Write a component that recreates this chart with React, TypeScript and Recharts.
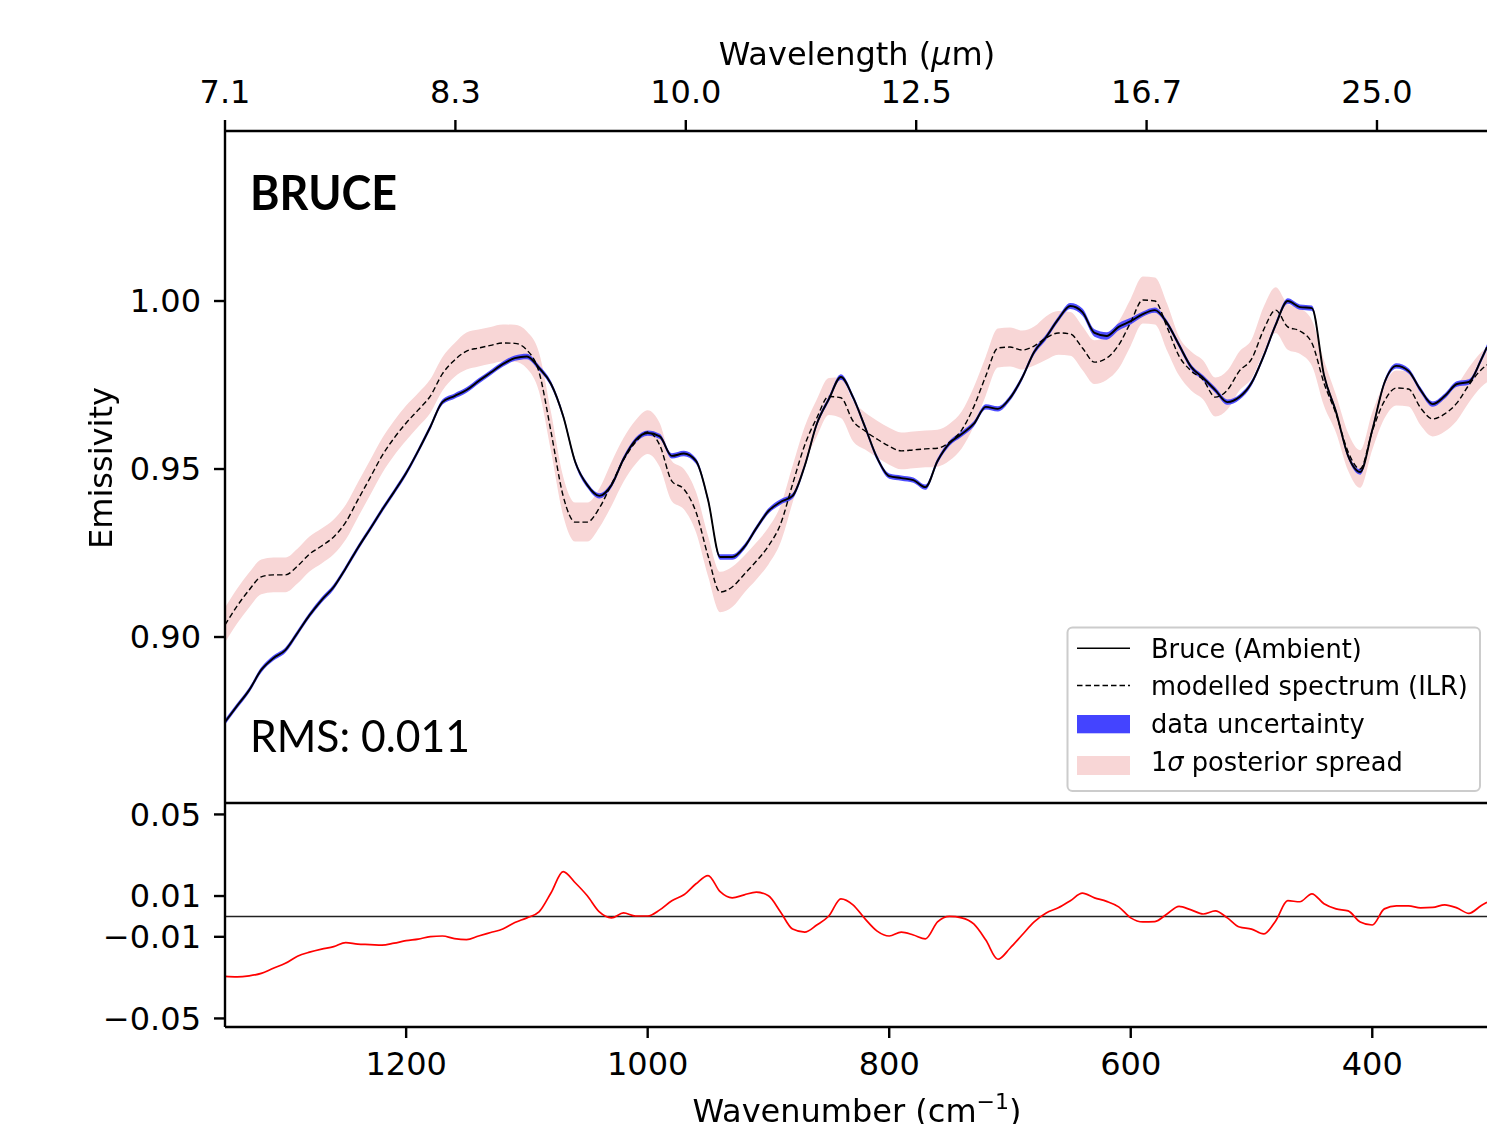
import React from 'react';
import { ComposedChart, Line, Area, XAxis, YAxis, ReferenceLine } from 'recharts';

// Wavenumber samples (cm^-1)
const WAVENUMBER = [
  1350, 1340, 1330, 1320, 1310, 1300, 1290, 1280, 1270, 1260, 1250, 1240, 1230, 1220, 1210, 1200,
  1190, 1180, 1170, 1160, 1150, 1140, 1130, 1120, 1110, 1100, 1090, 1080, 1070, 1060, 1050, 1040,
  1030, 1020, 1010, 1000, 990, 980, 970, 960, 950, 940, 930, 920, 910, 900, 890, 880,
  870, 860, 850, 840, 830, 820, 810, 800, 790, 780, 770, 760, 750, 740, 730, 720,
  710, 700, 690, 680, 670, 660, 650, 640, 630, 620, 610, 600, 590, 580, 570, 560,
  550, 540, 530, 520, 510, 500, 490, 480, 470, 460, 450, 440, 430, 420, 410, 400,
  390, 380, 370, 360, 350, 340, 330, 320, 310, 305,
];

// Bruce (Ambient) measured emissivity
const EMISSIVITY_DATA = [
  0.8747, 0.8795, 0.8842, 0.8902, 0.8937, 0.8961, 0.9012, 0.9065, 0.9110, 0.9149, 0.9205, 0.9265, 0.9321, 0.9378, 0.9432, 0.9488,
  0.9554, 0.9625, 0.9699, 0.9717, 0.9735, 0.9762, 0.9787, 0.9812, 0.9830, 0.9835, 0.9801, 0.9753, 0.9658, 0.9521, 0.9452, 0.9420,
  0.9452, 0.9530, 0.9586, 0.9607, 0.9597, 0.9539, 0.9546, 0.9524, 0.9408, 0.9238, 0.9238, 0.9268, 0.9324, 0.9375, 0.9402, 0.9420,
  0.9509, 0.9634, 0.9708, 0.9774, 0.9714, 0.9625, 0.9533, 0.9479, 0.9473, 0.9467, 0.9446, 0.9524, 0.9577, 0.9604, 0.9634, 0.9685,
  0.9679, 0.9711, 0.9771, 0.9848, 0.9893, 0.9946, 0.9985, 0.9967, 0.9905, 0.9896, 0.9923, 0.9940, 0.9961, 0.9973, 0.9935, 0.9869,
  0.9804, 0.9771, 0.9735, 0.9699, 0.9714, 0.9756, 0.9836, 0.9929, 1.0000, 0.9982, 0.9979, 0.9780, 0.9670, 0.9539, 0.9491, 0.9616,
  0.9756, 0.9807, 0.9792, 0.9735, 0.9693, 0.9717, 0.9753, 0.9759, 0.9824, 0.9863,
];

// modelled spectrum (ILR)
const EMISSIVITY_MODEL = [
  0.9036, 0.9092, 0.9140, 0.9179, 0.9185, 0.9185, 0.9211, 0.9247, 0.9271, 0.9298, 0.9342, 0.9408, 0.9473, 0.9539, 0.9592, 0.9637,
  0.9676, 0.9717, 0.9783, 0.9824, 0.9851, 0.9860, 0.9868, 0.9875, 0.9874, 0.9854, 0.9789, 0.9610, 0.9420, 0.9342, 0.9342, 0.9384,
  0.9455, 0.9527, 0.9580, 0.9610, 0.9571, 0.9464, 0.9440, 0.9372, 0.9241, 0.9134, 0.9149, 0.9187, 0.9226, 0.9271, 0.9336, 0.9455,
  0.9571, 0.9652, 0.9716, 0.9712, 0.9643, 0.9613, 0.9589, 0.9568, 0.9554, 0.9557, 0.9560, 0.9562, 0.9580, 0.9616, 0.9685, 0.9777,
  0.9860, 0.9863, 0.9854, 0.9866, 0.9890, 0.9905, 0.9902, 0.9860, 0.9818, 0.9830, 0.9869, 0.9937, 1.0003, 1.0000, 0.9923, 0.9836,
  0.9792, 0.9765, 0.9714, 0.9735, 0.9792, 0.9827, 0.9914, 0.9973, 0.9923, 0.9911, 0.9875, 0.9756, 0.9664, 0.9551, 0.9500, 0.9613,
  0.9702, 0.9741, 0.9738, 0.9682, 0.9649, 0.9664, 0.9696, 0.9750, 0.9795, 0.9810,
];

// 1-sigma posterior spread (half width)
const POSTERIOR_SIGMA = [
  0.0052, 0.0052, 0.0052, 0.0052, 0.0052, 0.0052, 0.0052, 0.0052, 0.0052, 0.0052, 0.0052, 0.0052, 0.0052, 0.0052, 0.0052, 0.0052,
  0.0050, 0.0050, 0.0050, 0.0050, 0.0055, 0.0055, 0.0055, 0.0055, 0.0055, 0.0055, 0.0058, 0.0058, 0.0058, 0.0058, 0.0058, 0.0058,
  0.0065, 0.0065, 0.0065, 0.0065, 0.0065, 0.0060, 0.0060, 0.0060, 0.0060, 0.0060, 0.0060, 0.0055, 0.0055, 0.0055, 0.0055, 0.0055,
  0.0055, 0.0055, 0.0055, 0.0060, 0.0060, 0.0055, 0.0055, 0.0055, 0.0055, 0.0055, 0.0055, 0.0055, 0.0055, 0.0055, 0.0058, 0.0058,
  0.0058, 0.0058, 0.0058, 0.0058, 0.0065, 0.0065, 0.0065, 0.0065, 0.0065, 0.0065, 0.0070, 0.0070, 0.0070, 0.0070, 0.0070, 0.0058,
  0.0058, 0.0058, 0.0058, 0.0058, 0.0058, 0.0058, 0.0068, 0.0068, 0.0068, 0.0068, 0.0068, 0.0068, 0.0056, 0.0056, 0.0056, 0.0056,
  0.0052, 0.0052, 0.0052, 0.0052, 0.0052, 0.0052, 0.0052, 0.0052, 0.0052, 0.0052,
];

// data uncertainty (half width)
const DATA_UNCERTAINTY = [
  0.0008, 0.0008, 0.0008, 0.0008, 0.0008, 0.0008, 0.0008, 0.0008, 0.0008, 0.0008, 0.0008, 0.0008, 0.0008, 0.0008, 0.0008, 0.0008,
  0.0008, 0.0008, 0.0008, 0.0008, 0.0008, 0.0008, 0.0008, 0.0008, 0.0008, 0.0008, 0.0008, 0.0008, 0.0008, 0.0008, 0.0008, 0.0008,
  0.0008, 0.0008, 0.0008, 0.0008, 0.0008, 0.0008, 0.0008, 0.0008, 0.0008, 0.0008, 0.0008, 0.0008, 0.0008, 0.0008, 0.0008, 0.0008,
  0.0008, 0.0008, 0.0008, 0.0008, 0.0008, 0.0008, 0.0008, 0.0008, 0.0008, 0.0008, 0.0008, 0.0008, 0.0008, 0.0008, 0.0008, 0.0008,
  0.0008, 0.0008, 0.0008, 0.0008, 0.0008, 0.0008, 0.0009, 0.0011, 0.0011, 0.0011, 0.0011, 0.0010, 0.0008, 0.0008, 0.0008, 0.0008,
  0.0008, 0.0008, 0.0008, 0.0008, 0.0008, 0.0008, 0.0008, 0.0008, 0.0008, 0.0008, 0.0008, 0.0008, 0.0008, 0.0008, 0.0008, 0.0008,
  0.0008, 0.0008, 0.0008, 0.0008, 0.0008, 0.0008, 0.0008, 0.0008, 0.0008, 0.0008,
];

// residual (data - model)
const RESIDUAL = [
  -0.0294, -0.0296, -0.0291, -0.0279, -0.0254, -0.0230, -0.0195, -0.0175, -0.0160, -0.0148, -0.0128, -0.0136, -0.0138, -0.0141, -0.0131, -0.0119,
  -0.0111, -0.0099, -0.0096, -0.0109, -0.0114, -0.0096, -0.0079, -0.0062, -0.0030, -0.0007, 0.0022, 0.0116, 0.0220, 0.0165, 0.0101, 0.0022,
  -0.0007, 0.0017, 0.0002, 0.0002, 0.0032, 0.0077, 0.0106, 0.0160, 0.0200, 0.0121, 0.0091, 0.0106, 0.0119, 0.0101, 0.0022, -0.0062,
  -0.0077, -0.0042, 0.0002, 0.0086, 0.0057, -0.0012, -0.0072, -0.0096, -0.0077, -0.0091, -0.0110, -0.0027, 0.0000, -0.0007, -0.0037, -0.0116,
  -0.0210, -0.0156, -0.0091, -0.0027, 0.0017, 0.0042, 0.0077, 0.0114, 0.0091, 0.0074, 0.0047, -0.0007, -0.0027, -0.0025, 0.0012, 0.0049,
  0.0032, 0.0012, 0.0027, -0.0007, -0.0052, -0.0062, -0.0086, -0.0022, 0.0077, 0.0072, 0.0111, 0.0062, 0.0037, 0.0027, -0.0027, -0.0042,
  0.0037, 0.0052, 0.0052, 0.0042, 0.0044, 0.0057, 0.0042, 0.0015, 0.0052, 0.0069,
];

const WAVENUMBER_TICKS = [1200, 1000, 800, 600, 400];
const EMISSIVITY_TICKS = [0.9, 0.95, 1.0];
const RESIDUAL_TICKS = [0.05, 0.01, -0.01, -0.05];
const RESIDUAL_TICK_LABELS = ['0.05', '0.01', '\u22120.01', '\u22120.05'];
const WAVELENGTH_TICK_LABELS = ['7.1', '8.3', '10.0', '12.5', '16.7', '25.0'];

const WN_MAX = 1350;
const WN_MIN = 305;
// the twin (wavelength) axis places its ticks evenly, this many cm^-1 apart on the wavenumber scale
const TWIN_TICK_STEP = 190.78;
const WAVELENGTH_TICKS = WAVELENGTH_TICK_LABELS.map((_, k) => WN_MAX - k * TWIN_TICK_STEP);

const rows = WAVENUMBER.map((wn, i) => ({
  wn,
  data: EMISSIVITY_DATA[i],
  model: EMISSIVITY_MODEL[i],
  posterior: [EMISSIVITY_MODEL[i] - POSTERIOR_SIGMA[i], EMISSIVITY_MODEL[i] + POSTERIOR_SIGMA[i]],
  dataBand: [EMISSIVITY_DATA[i] - DATA_UNCERTAINTY[i], EMISSIVITY_DATA[i] + DATA_UNCERTAINTY[i]],
  residual: RESIDUAL[i],
}));

const FONT = 'DejaVu Sans';
const TICK_STYLE = { fill: '#000', fontSize: 32, fontFamily: FONT };
const SPINE = { stroke: '#000', strokeWidth: 2.4 };
const WIDTH = 1487;
const PLOT_LEFT = 225;
const PINK = '#f8d6d6';
const BLUE = '#4444ff';
const RES_DOMAIN: [number, number] = [-0.0542, 0.0556];

export default function App() {
  return (
    <div style={{ position: 'fixed', left: 0, top: 0, width: WIDTH, height: 1124, background: '#fff' }}>
      <div style={{ position: 'absolute', left: 0, top: 0 }}>
        <ComposedChart width={WIDTH} height={810} data={rows} margin={{ top: 0, right: 0, bottom: 7, left: 0 }}>
          <XAxis
            xAxisId="wn"
            dataKey="wn"
            type="number"
            domain={[WN_MIN, WN_MAX]}
            reversed
            allowDataOverflow
            hide
          />
          <XAxis
            xAxisId="wl"
            dataKey="wn"
            orientation="top"
            type="number"
            domain={[WN_MIN, WN_MAX]}
            reversed
            ticks={WAVELENGTH_TICKS}
            interval={0}
            allowDataOverflow
            height={131}
            tickFormatter={(v: number) => WAVELENGTH_TICK_LABELS[Math.round((WN_MAX - v) / TWIN_TICK_STEP)]}
            tickSize={11}
            tickMargin={17}
            tick={TICK_STYLE}
            tickLine={SPINE}
            axisLine={SPINE}
          />
          <YAxis
            type="number"
            domain={[0.8506, 1.0506]}
            ticks={EMISSIVITY_TICKS}
            interval={0}
            allowDataOverflow
            width={PLOT_LEFT}
            tickFormatter={(v: number) => v.toFixed(2)}
            tickSize={11}
            tickMargin={13}
            tick={TICK_STYLE}
            tickLine={SPINE}
            axisLine={SPINE}
          />
          <Area xAxisId="wn" dataKey="posterior" type="monotone" fill={PINK} fillOpacity={1} stroke="none" isAnimationActive={false} />
          <Area xAxisId="wn" dataKey="dataBand" type="monotone" fill={BLUE} fillOpacity={0.95} stroke="none" isAnimationActive={false} />
          <Line xAxisId="wn" dataKey="data" type="monotone" stroke="#000" strokeWidth={1.9} dot={false} isAnimationActive={false} />
          <Line xAxisId="wn" dataKey="model" type="monotone" stroke="#000" strokeWidth={1.4} strokeDasharray="5.5 3" dot={false} isAnimationActive={false} />
        </ComposedChart>
      </div>
      <div style={{ position: 'absolute', left: 0, top: 790 }}>
        <ComposedChart width={WIDTH} height={334} data={rows} margin={{ top: 13, right: 0, bottom: 0, left: 0 }}>
          <XAxis
            dataKey="wn"
            type="number"
            domain={[WN_MIN, WN_MAX]}
            reversed
            allowDataOverflow
            ticks={WAVENUMBER_TICKS}
            interval={0}
            height={97}
            tickSize={11}
            tickMargin={14}
            tick={TICK_STYLE}
            tickLine={SPINE}
            axisLine={SPINE}
          />
          <YAxis
            type="number"
            domain={RES_DOMAIN}
            ticks={RESIDUAL_TICKS}
            interval={0}
            allowDataOverflow
            width={PLOT_LEFT}
            tickFormatter={(v: number) => RESIDUAL_TICK_LABELS[RESIDUAL_TICKS.indexOf(v)] ?? String(v)}
            tickSize={11}
            tickMargin={13}
            tick={TICK_STYLE}
            tickLine={SPINE}
            axisLine={SPINE}
          />
          <ReferenceLine y={RES_DOMAIN[1]} stroke="#000" strokeWidth={2.4} ifOverflow="visible" />
          <ReferenceLine y={0} stroke="#222" strokeWidth={1.4} />
          <Line dataKey="residual" type="monotone" stroke="#ff0000" strokeWidth={1.7} dot={false} isAnimationActive={false} />
        </ComposedChart>
      </div>
      <svg
        width={WIDTH}
        height={1124}
        style={{ position: 'absolute', left: 0, top: 0, pointerEvents: 'none', overflow: 'visible' }}
      >
        <text x={857} y={65} textAnchor="middle" fontSize={32} fontFamily={FONT} fill="#000">
          Wavelength (<tspan fontStyle="italic">μ</tspan>m)
        </text>
        <text x={857} y={1122} textAnchor="middle" fontSize={32} fontFamily={FONT} fill="#000">
          Wavenumber (cm<tspan fontSize={22} dy={-13}>−1</tspan><tspan dy={13}>)</tspan>
        </text>
        <text
          transform="translate(112,468) rotate(-90)"
          textAnchor="middle"
          fontSize={32}
          fontFamily={FONT}
          fill="#000"
        >
          Emissivity
        </text>
        <text x={250} y={210} fontSize={47} fontWeight={700} fontFamily="Lato" fill="#000" textLength={147} lengthAdjust="spacingAndGlyphs">
          BRUCE
        </text>
        <text x={250} y={752} fontSize={45} fontFamily="Lato" fill="#000" textLength={220} lengthAdjust="spacingAndGlyphs">
          RMS: 0.011
        </text>
        <g>
          <rect x={1067.5} y={627.5} width={412.5} height={163.5} rx={5} fill="#fff" fillOpacity={0.8} stroke="#cccccc" strokeWidth={2} />
          <line x1={1077} y1={648.3} x2={1130} y2={648.3} stroke="#000" strokeWidth={1.6} />
          <line x1={1077} y1={685.5} x2={1130} y2={685.5} stroke="#000" strokeWidth={1.4} strokeDasharray="5.5 3" />
          <rect x={1077} y={715} width={53} height={18.3} fill={BLUE} />
          <rect x={1077} y={756} width={53} height={19} fill={PINK} />
          <g fontSize={25.7} fontFamily={FONT} fill="#000">
            <text x={1151} y={657.5}>Bruce (Ambient)</text>
            <text x={1151} y={695}>modelled spectrum (ILR)</text>
            <text x={1151} y={733}>data uncertainty</text>
            <text x={1151} y={771}>
              1<tspan fontStyle="italic">σ</tspan> posterior spread
            </text>
          </g>
        </g>
      </svg>
    </div>
  );
}
